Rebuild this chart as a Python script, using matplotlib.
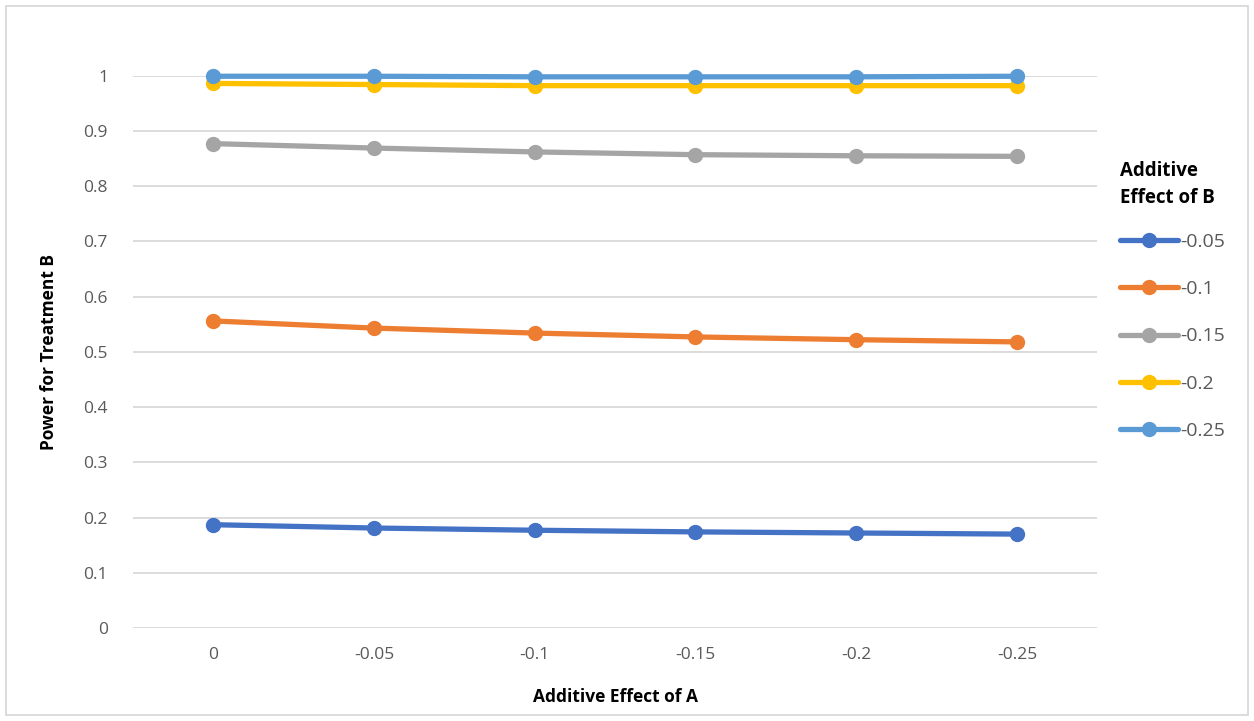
import matplotlib.pyplot as plt
from matplotlib.patches import Rectangle

effect_a = ['0', '-0.05', '-0.1', '-0.15', '-0.2', '-0.25']
effect_b = ['-0.05', '-0.1', '-0.15', '-0.2', '-0.25']
power_005 = [0.187, 0.181, 0.177, 0.174, 0.172, 0.170]
power_010 = [0.556, 0.543, 0.534, 0.527, 0.522, 0.518]
power_015 = [0.877, 0.869, 0.862, 0.857, 0.855, 0.854]
power_020 = [0.986, 0.984, 0.982, 0.982, 0.982, 0.982]
power_025 = [0.999, 0.999, 0.998, 0.998, 0.998, 0.999]
colors = ['#4472C4', '#ED7D31', '#A5A5A5', '#FFC000', '#5B9BD5']

plt.rcParams['font.family'] = ['Open Sans', 'DejaVu Sans']

fig = plt.figure(figsize=(12.54, 7.21), dpi=100)
ax = fig.add_axes([0.106, 0.129, 0.769, 0.766])

x = range(len(effect_a))
series = [power_005, power_010, power_015, power_020, power_025]
for vals, c, lab in zip(series, colors, effect_b):
    ax.plot(x, vals, color=c, linewidth=3.8, marker='o', markersize=10,
            label=lab, clip_on=False, solid_capstyle='round')

ax.set_xlim(-0.5, 5.5)
ax.set_ylim(0, 1.0)
ax.set_yticks([i / 10 for i in range(11)])
ax.set_yticklabels(['0', '0.1', '0.2', '0.3', '0.4', '0.5', '0.6', '0.7', '0.8', '0.9', '1'])
ax.set_xticks(list(x))
ax.set_xticklabels(effect_a)
ax.tick_params(length=0, labelsize=12.5, colors='#595959', pad=18)
ax.tick_params(axis='x', pad=14)
ax.grid(axis='y', color='#D9D9D9', linewidth=1.3)
ax.set_axisbelow(True)
for s in ax.spines.values():
    s.set_visible(False)

ax.set_xlabel('Additive Effect of A', fontsize=12.5, fontweight='bold', labelpad=18)
ax.set_ylabel('Power for Treatment B', fontsize=12.5, fontweight='bold', labelpad=18)

leg = ax.legend(title='Additive\nEffect of B', loc='upper left',
                bbox_to_anchor=(1.005, 0.878), frameon=False, fontsize=14,
                title_fontproperties={'weight': 'bold', 'size': 13.5},
                handlelength=3.0, labelspacing=1.5, handletextpad=0.1,
                borderaxespad=0.5)
leg._legend_box.align = 'left'
leg._legend_box.sep = 18
leg.get_title().set_linespacing(1.5)
for t in leg.get_texts():
    t.set_color('#595959')

fig.patches.append(Rectangle((0.005, 0.008), 0.99, 0.984, transform=fig.transFigure,
                             fill=False, edgecolor='#D9D9D9', linewidth=1.3))

fig.savefig('out.png', dpi=100)
